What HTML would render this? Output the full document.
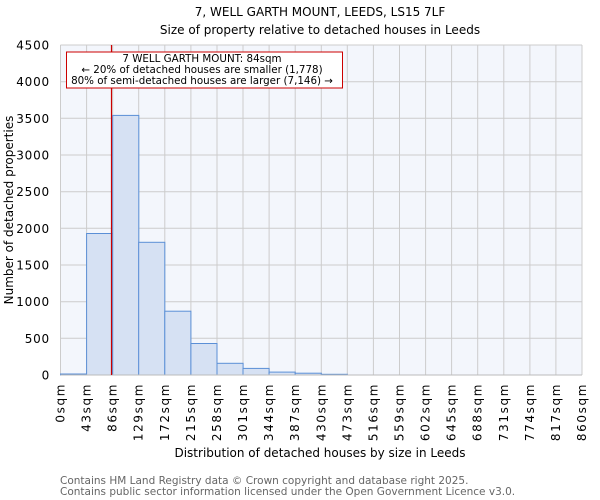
<!DOCTYPE html>
<html><head><meta charset="utf-8"><style>body{margin:0;background:#fff}svg{display:block;font-family:"DejaVu Sans","Liberation Sans",sans-serif}</style></head><body>
<svg width="600" height="500" xmlns="http://www.w3.org/2000/svg">
<text x="320" y="16" font-size="12" text-anchor="middle">7, WELL GARTH MOUNT, LEEDS, LS15 7LF</text>
<text x="320" y="34" font-size="12" text-anchor="middle">Size of property relative to detached houses in Leeds</text>
<rect x="60.5" y="45" width="521.5" height="330" fill="#f3f6fc"/>
<g stroke="#cccccc" stroke-width="1">
<line x1="60.5" x2="582" y1="45" y2="45"/><line x1="60.5" x2="582" y1="81.7" y2="81.7"/><line x1="60.5" x2="582" y1="118.3" y2="118.3"/><line x1="60.5" x2="582" y1="155" y2="155"/><line x1="60.5" x2="582" y1="191.7" y2="191.7"/><line x1="60.5" x2="582" y1="228.3" y2="228.3"/><line x1="60.5" x2="582" y1="265" y2="265"/><line x1="60.5" x2="582" y1="301.7" y2="301.7"/><line x1="60.5" x2="582" y1="338.3" y2="338.3"/>
</g>
<g stroke="#cccccc">
<line x1="60.5" x2="60.5" y1="45" y2="375"/><line x1="86.6" x2="86.6" y1="45" y2="375"/><line x1="112.7" x2="112.7" y1="45" y2="375"/><line x1="138.7" x2="138.7" y1="45" y2="375"/><line x1="164.8" x2="164.8" y1="45" y2="375"/><line x1="190.9" x2="190.9" y1="45" y2="375"/><line x1="217" x2="217" y1="45" y2="375"/><line x1="243" x2="243" y1="45" y2="375"/><line x1="269.1" x2="269.1" y1="45" y2="375"/><line x1="295.2" x2="295.2" y1="45" y2="375"/><line x1="321.3" x2="321.3" y1="45" y2="375"/><line x1="347.3" x2="347.3" y1="45" y2="375"/><line x1="373.4" x2="373.4" y1="45" y2="375"/><line x1="399.5" x2="399.5" y1="45" y2="375"/><line x1="425.6" x2="425.6" y1="45" y2="375"/><line x1="451.6" x2="451.6" y1="45" y2="375"/><line x1="477.7" x2="477.7" y1="45" y2="375"/><line x1="503.8" x2="503.8" y1="45" y2="375"/><line x1="529.9" x2="529.9" y1="45" y2="375"/><line x1="555.9" x2="555.9" y1="45" y2="375"/><line x1="582" x2="582" y1="45" y2="375"/>
</g>
<g fill="#d6e1f3" stroke="#5b8fd6" stroke-width="1">
<rect x="60.5" y="374" width="26.1" height="1"/>
<rect x="86.6" y="233.5" width="26.1" height="141.5"/>
<rect x="112.7" y="115.4" width="26.1" height="259.6"/>
<rect x="138.7" y="242.3" width="26.1" height="132.7"/>
<rect x="164.8" y="311.2" width="26.1" height="63.8"/>
<rect x="190.9" y="343.5" width="26.1" height="31.5"/>
<rect x="217" y="363.3" width="26.1" height="11.7"/>
<rect x="243" y="368.4" width="26.1" height="6.6"/>
<rect x="269.1" y="372.1" width="26.1" height="2.9"/>
<rect x="295.2" y="373.2" width="26.1" height="1.8"/>
<rect x="321.3" y="374.3" width="26.1" height="0.7"/>
</g>
<line x1="60.5" x2="582" y1="375" y2="375" stroke="#bbbbbb"/>
<line x1="111.5" x2="111.5" y1="45" y2="375" stroke="#cc0000" stroke-width="1.2"/>
<rect x="66.5" y="52" width="276" height="36" fill="#fff" stroke="#cc0000"/>
<g font-size="10.3" text-anchor="middle"><text x="202" y="62">7 WELL GARTH MOUNT: 84sqm</text><text x="202" y="73">← 20% of detached houses are smaller (1,778)</text><text x="202" y="84">80% of semi-detached houses are larger (7,146) →</text></g>
<g font-size="12" text-anchor="end" letter-spacing="0.8">
<text x="50" y="49.5">4500</text><text x="50" y="86">4000</text><text x="50" y="123">3500</text><text x="50" y="159.5">3000</text><text x="50" y="196">2500</text><text x="50" y="233">2000</text><text x="50" y="269.5">1500</text><text x="50" y="306">1000</text><text x="50" y="343">500</text><text x="50" y="379.5">0</text>
</g>
<text transform="translate(13,210) rotate(-90)" font-size="12" text-anchor="middle">Number of detached properties</text>
<g font-size="12" text-anchor="end" letter-spacing="1.6">
<text transform="translate(64.5,383) rotate(-90)">0sqm</text><text transform="translate(90.6,383) rotate(-90)">43sqm</text><text transform="translate(116.7,383) rotate(-90)">86sqm</text><text transform="translate(142.7,383) rotate(-90)">129sqm</text><text transform="translate(168.8,383) rotate(-90)">172sqm</text><text transform="translate(194.9,383) rotate(-90)">215sqm</text><text transform="translate(221,383) rotate(-90)">258sqm</text><text transform="translate(247,383) rotate(-90)">301sqm</text><text transform="translate(273.1,383) rotate(-90)">344sqm</text><text transform="translate(299.2,383) rotate(-90)">387sqm</text><text transform="translate(325.3,383) rotate(-90)">430sqm</text><text transform="translate(351.3,383) rotate(-90)">473sqm</text><text transform="translate(377.4,383) rotate(-90)">516sqm</text><text transform="translate(403.5,383) rotate(-90)">559sqm</text><text transform="translate(429.6,383) rotate(-90)">602sqm</text><text transform="translate(455.6,383) rotate(-90)">645sqm</text><text transform="translate(481.7,383) rotate(-90)">688sqm</text><text transform="translate(507.8,383) rotate(-90)">731sqm</text><text transform="translate(533.9,383) rotate(-90)">774sqm</text><text transform="translate(559.9,383) rotate(-90)">817sqm</text><text transform="translate(586,383) rotate(-90)">860sqm</text>
</g>
<text x="320" y="457" font-size="12" text-anchor="middle">Distribution of detached houses by size in Leeds</text>
<g font-size="10.5" fill="#666"><text x="60" y="484">Contains HM Land Registry data © Crown copyright and database right 2025.</text><text x="60" y="495">Contains public sector information licensed under the Open Government Licence v3.0.</text></g>
</svg>
</body></html>
